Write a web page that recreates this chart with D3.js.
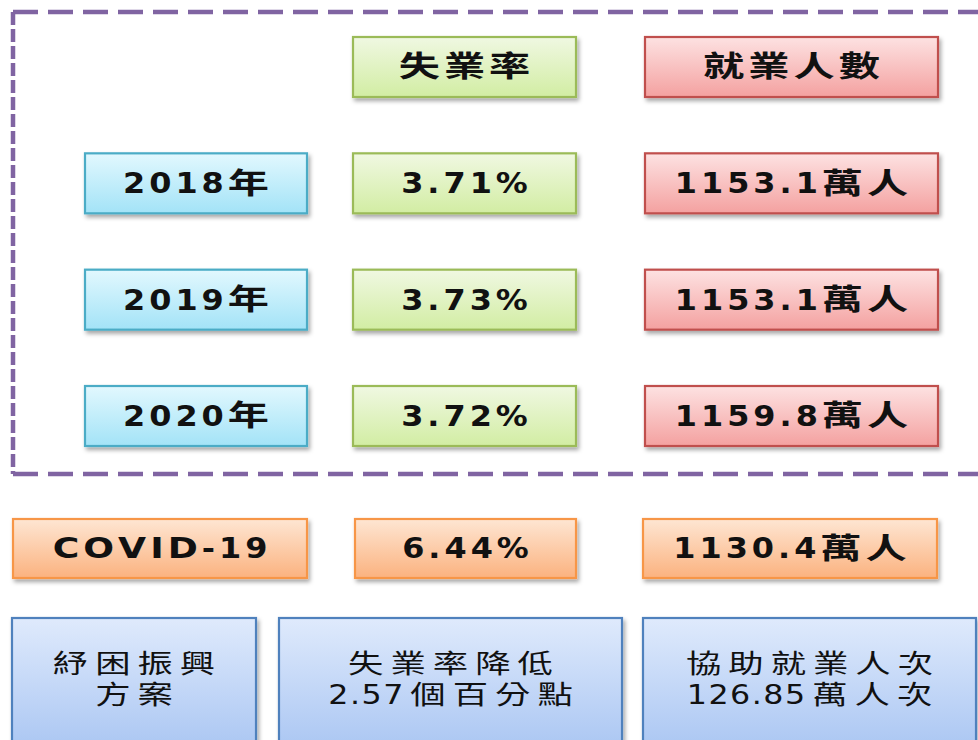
<!DOCTYPE html>
<html>
<head>
<meta charset="utf-8">
<script src="https://cdn.jsdelivr.net/npm/d3@7"></script>
<style>
  html, body { margin: 0; padding: 0; background: #fff; overflow: hidden; }
  svg { display: block; }
</style>
</head>
<body>
<script>
// table values
var columnHeaders = ["失業率", "就業人數"];
var years = ["2018年", "2019年", "2020年"];
var unemploymentRate = [3.71, 3.73, 3.72];      // %
var employedPersons = [1153.1, 1153.1, 1159.8];  // 萬人

var covidLabel = "COVID-19";
var covidRate = 6.44;        // %
var covidEmployed = 1130.4;  // 萬人

var reliefTitle = ["紓困振興", "方案"];
var rateDrop = 2.57;         // 個百分點
var assistedJobs = 126.85;   // 萬人次

var width = 978, height = 740;

var palette = {
    cyan:   {top: "#e2f8fe", bottom: "#a3e3f7", stroke: "#4bacc6"},
    green:  {top: "#f0f8e2", bottom: "#d2eda3", stroke: "#9bbb59"},
    red:    {top: "#fde2e2", bottom: "#f4a1a0", stroke: "#c0504d"},
    orange: {top: "#fee6d3", bottom: "#fbb27f", stroke: "#f79646"},
    blue:   {top: "#dfeafc", bottom: "#a7c4f2", stroke: "#4f81bd"}
};

// the source picture is stretched sideways, CJK glyphs more than latin ones
var textStyle = {
    bold:    {size: 29, weight: "bold", latinSx: 1.1, capSx: 1.25, latinGap: 4, cjkSx: 1.42, cjkGap: 4},
    regular: {size: 26, weight: "normal", latinSx: 1.22, capSx: 1.22, latinGap: 1.5, cjkSx: 1.36, cjkGap: 7}
};

var svg = d3.select("body").append("svg")
    .attr("width", width)
    .attr("height", height);

var defs = svg.append("defs");

Object.keys(palette).forEach(function (k) {
    var g = defs.append("linearGradient")
        .attr("id", "grad-" + k)
        .attr("x1", 0).attr("y1", 0).attr("x2", 0).attr("y2", 1);
    g.append("stop").attr("offset", "0%").attr("stop-color", palette[k].top);
    g.append("stop").attr("offset", "100%").attr("stop-color", palette[k].bottom);
});

defs.append("filter")
    .attr("id", "shadow")
    .attr("x", "-10%").attr("y", "-20%").attr("width", "130%").attr("height", "160%")
    .append("feDropShadow")
    .attr("dx", 2).attr("dy", 3)
    .attr("stdDeviation", 2)
    .attr("flood-color", "#000")
    .attr("flood-opacity", 0.35);

// layout: rows of the table inside the dashed frame
var rowY = d3.scaleLinear().domain([0, 3]).range([37, 386]);
var boxH = 60;
var cols = [
    {x0: 85, x1: 307},
    {x0: 353, x1: 576},
    {x0: 645, x1: 938}
];

var fmtRate = d3.format(".2f");
var fmtPersons = d3.format(".1f");

var cells = [];

columnHeaders.forEach(function (h, i) {
    cells.push({x0: cols[i + 1].x0, x1: cols[i + 1].x1, y: rowY(0), h: boxH,
        lines: [h], color: i === 0 ? "green" : "red", bold: true});
});

years.forEach(function (yr, i) {
    var y = rowY(i + 1);
    cells.push({x0: cols[0].x0, x1: cols[0].x1, y: y, h: boxH, lines: [yr], color: "cyan", bold: true});
    cells.push({x0: cols[1].x0, x1: cols[1].x1, y: y, h: boxH,
        lines: [fmtRate(unemploymentRate[i]) + "%"], color: "green", bold: true});
    cells.push({x0: cols[2].x0, x1: cols[2].x1, y: y, h: boxH,
        lines: [fmtPersons(employedPersons[i]) + "萬人"], color: "red", bold: true});
});

// covid row, below the frame
var covidY = 519;
cells.push({x0: 13, x1: 307, y: covidY, h: 59, lines: [covidLabel], color: "orange", bold: true});
cells.push({x0: 355, x1: 576, y: covidY, h: 59, lines: [fmtRate(covidRate) + "%"], color: "orange", bold: true});
cells.push({x0: 643, x1: 937, y: covidY, h: 59,
    lines: [fmtPersons(covidEmployed) + "萬人"], color: "orange", bold: true});

// relief measures row
var reliefY = 618;
cells.push({x0: 12, x1: 256, y: reliefY, h: 140, lines: reliefTitle, color: "blue", bold: false});
cells.push({x0: 279, x1: 622, y: reliefY, h: 140,
    lines: ["失業率降低", rateDrop + "個百分點"], color: "blue", bold: false});
cells.push({x0: 643, x1: 976, y: reliefY, h: 140,
    lines: ["協助就業人次", assistedJobs + "萬人次"], color: "blue", bold: false});

// dashed frame around the yearly table
var frame = {left: 13, top: 12, right: 1000, bottom: 474};
var fg = svg.append("g")
    .attr("fill", "none")
    .attr("stroke", "#8064a2")
    .attr("stroke-width", 4.5);
fg.append("line")
    .attr("x1", frame.left).attr("y1", frame.top).attr("x2", frame.right).attr("y2", frame.top)
    .attr("stroke-dasharray", "25 10");
fg.append("line")
    .attr("x1", frame.left).attr("y1", frame.bottom).attr("x2", frame.right).attr("y2", frame.bottom)
    .attr("stroke-dasharray", "25 10");
fg.append("line")
    .attr("x1", frame.left).attr("y1", frame.top).attr("x2", frame.left).attr("y2", frame.bottom)
    .attr("stroke-dasharray", "13 4");

var boxes = svg.selectAll("g.cell")
    .data(cells)
    .enter()
    .append("g")
    .attr("class", "cell");

boxes.append("rect")
    .attr("x", function (d) { return d.x0; })
    .attr("y", function (d) { return d.y; })
    .attr("width", function (d) { return d.x1 - d.x0; })
    .attr("height", function (d) { return d.h; })
    .attr("fill", function (d) { return "url(#grad-" + d.color + ")"; })
    .attr("stroke", function (d) { return palette[d.color].stroke; })
    .attr("stroke-width", 2.2)
    .attr("filter", "url(#shadow)");

var isCJK = function (c) { return /[\u3400-\u9fff]/.test(c); };
var isCap = function (c) { return /[A-Z]/.test(c); };

// lay a line out glyph by glyph so each kind can get its own stretch
function drawLine(parent, txt, cx, cy, st) {
    var g = parent.append("g");
    var x = 0, prev = null;
    Array.from(txt).forEach(function (c) {
        var cjk = isCJK(c);
        var sx = cjk ? st.cjkSx : (isCap(c) ? st.capSx : st.latinSx);
        if (prev !== null) {
            x += (cjk || isCJK(prev)) ? st.cjkGap : st.latinGap;
        }
        var t = g.append("text")
            .attr("transform", "translate(" + x + ",0) scale(" + sx + ",1)")
            .attr("dominant-baseline", "central")
            .style("font-family", "'DejaVu Sans', 'Noto Sans CJK TC', sans-serif")
            .style("font-weight", st.weight)
            .style("font-size", st.size + "px")
            .attr("fill", "#111")
            .text(c);
        x += t.node().getComputedTextLength() * sx;
        prev = c;
    });
    g.attr("transform", "translate(" + (cx - x / 2) + "," + cy + ")");
}

boxes.each(function (d) {
    var cx = (d.x0 + d.x1) / 2;
    var st = d.bold ? textStyle.bold : textStyle.regular;
    var sel = d3.select(this);
    d.lines.forEach(function (txt, j) {
        var cy = d.bold ? d.y + d.h / 2 : 664 + j * 31;
        drawLine(sel, txt, cx, cy, st);
    });
});
</script>
</body>
</html>
